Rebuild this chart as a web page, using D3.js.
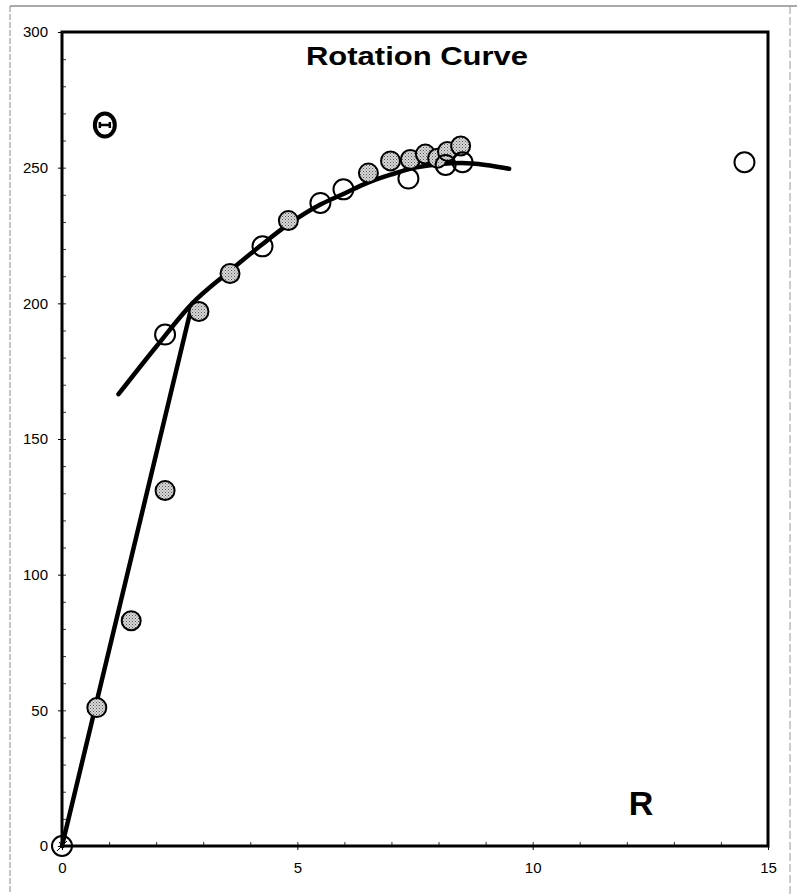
<!DOCTYPE html>
<html>
<head>
<meta charset="utf-8">
<script src="https://cdn.jsdelivr.net/npm/d3@7"></script>
<style>
  body { margin: 0; background: #fff; }
  text { font-family: "Liberation Sans", Arial, sans-serif; }
</style>
</head>
<body>
<div id="chart"></div>
<script>
// measured points (grey, stippled)
var filledR = [0.74, 1.47, 2.19, 2.91, 3.57, 4.81, 6.51, 6.98, 7.40, 7.72, 7.98, 8.19, 8.47];
var filledV = [51, 83, 131, 197, 211, 230.5, 248, 252.5, 253, 255, 253.5, 256, 258];

// measured points (open)
var openR = [0, 2.19, 4.26, 5.49, 5.98, 7.36, 8.15, 8.51, 14.5];
var openV = [0, 188.5, 221, 237, 242, 246, 251, 252, 252];

// the odd point with an error bar
var barR = [0.91];
var barV = [265.7];

// straight rise and the fitted curve
var riseR = [0, 2.77];
var riseV = [0, 200];
var fitR = [1.2, 2.0, 2.77, 3.5, 4.2, 4.8, 5.5, 6.0, 6.5, 7.0, 7.5, 8.0, 8.5, 9.0, 9.5];
var fitV = [166.5, 184, 200, 211, 221, 229, 236.5, 240.5, 244.5, 247.5, 250, 251.3, 251.7, 251, 249.6];

var xTicks = [0, 5, 10, 15];
var yTicks = [0, 50, 100, 150, 200, 250, 300];

var width = 797, height = 894;

var svg = d3.select('#chart')
  .append('svg')
  .attr('width', width)
  .attr('height', height);

// page edges, like a scanned sheet
svg.append('line').attr('x1', 10).attr('x2', 797).attr('y1', 6).attr('y2', 6)
  .attr('stroke', '#555').attr('stroke-width', 1);
svg.append('line').attr('x1', 10).attr('x2', 10).attr('y1', 6).attr('y2', 894)
  .attr('stroke', '#888').attr('stroke-width', 1).attr('stroke-dasharray', '6,2');
svg.append('line').attr('x1', 790).attr('x2', 790).attr('y1', 6).attr('y2', 894)
  .attr('stroke', '#999').attr('stroke-width', 1).attr('stroke-dasharray', '8,3');

var x = d3.scaleLinear().domain([0, 15]).range([62, 768]);
var y = d3.scaleLinear().domain([0, 300]).range([846, 32]);

// stipple pattern for grey markers
var defs = svg.append('defs');
var pat = defs.append('pattern')
  .attr('id', 'stip')
  .attr('width', 3).attr('height', 3)
  .attr('patternUnits', 'userSpaceOnUse');
pat.append('rect').attr('width', 3).attr('height', 3).attr('fill', '#d8d8d8');
pat.append('rect').attr('width', 1).attr('height', 1).attr('fill', '#555');
pat.append('rect').attr('x', 1.5).attr('y', 1.5).attr('width', 1).attr('height', 1).attr('fill', '#777');

// minor ticks, inside the frame
svg.append('g')
  .attr('transform', 'translate(0,' + y(0) + ')')
  .call(d3.axisTop(x).tickValues(d3.range(1, 15)).tickSize(4).tickFormat(''))
  .call(function(g) { g.select('.domain').remove(); })
  .selectAll('line').attr('stroke', '#333');

svg.append('g')
  .attr('transform', 'translate(' + x(0) + ',0)')
  .call(d3.axisRight(y).tickValues(d3.range(10, 300, 10)).tickSize(4).tickFormat(''))
  .call(function(g) { g.select('.domain').remove(); })
  .selectAll('line').attr('stroke', '#333');

// major tick labels
var xAxis = svg.append('g')
  .attr('transform', 'translate(0,' + y(0) + ')')
  .call(d3.axisBottom(x).tickValues(xTicks).tickSize(4).tickPadding(12))
  .call(function(g) { g.select('.domain').remove(); });
xAxis.selectAll('text').attr('font-size', 15).attr('fill', '#000')
  .style('font-family', '"Liberation Sans", Arial, sans-serif');

var yAxis = svg.append('g')
  .attr('transform', 'translate(' + x(0) + ',0)')
  .call(d3.axisLeft(y).tickValues(yTicks).tickSize(4).tickPadding(10))
  .call(function(g) { g.select('.domain').remove(); });
yAxis.selectAll('text').attr('font-size', 15).attr('fill', '#000')
  .style('font-family', '"Liberation Sans", Arial, sans-serif');

// the frame
svg.append('rect')
  .attr('x', x(0)).attr('y', y(300))
  .attr('width', x(15) - x(0)).attr('height', y(0) - y(300))
  .attr('fill', 'none').attr('stroke', '#000').attr('stroke-width', 3);

// title and axis letter
svg.append('text')
  .attr('x', 306).attr('y', 65)
  .attr('font-size', 25).attr('font-weight', 'bold')
  .attr('textLength', 222).attr('lengthAdjust', 'spacingAndGlyphs')
  .text('Rotation Curve');

svg.append('text')
  .attr('x', 641).attr('y', 815)
  .attr('text-anchor', 'middle')
  .attr('font-size', 34).attr('font-weight', 'bold')
  .text('R');

// lines
var line = d3.line()
  .x(function(d) { return x(d[0]); })
  .y(function(d) { return y(d[1]); });

svg.append('path')
  .datum(d3.zip(riseR, riseV))
  .attr('d', line)
  .attr('fill', 'none').attr('stroke', '#000').attr('stroke-width', 4.5)
  .attr('stroke-linecap', 'round');

svg.append('path')
  .datum(d3.zip(fitR, fitV))
  .attr('d', line.curve(d3.curveMonotoneX))
  .attr('fill', 'none').attr('stroke', '#000').attr('stroke-width', 4.5)
  .attr('stroke-linecap', 'round');

// markers
svg.append('g').selectAll('circle')
  .data(d3.zip(filledR, filledV))
  .enter().append('circle')
  .attr('cx', function(d) { return x(d[0]); })
  .attr('cy', function(d) { return y(d[1]); })
  .attr('r', 9.5)
  .attr('fill', 'url(#stip)')
  .attr('stroke', '#000').attr('stroke-width', 2);

svg.append('g').selectAll('circle')
  .data(d3.zip(openR, openV))
  .enter().append('circle')
  .attr('cx', function(d) { return x(d[0]); })
  .attr('cy', function(d) { return y(d[1]); })
  .attr('r', 10)
  .attr('fill', 'none')
  .attr('stroke', '#000').attr('stroke-width', 2);

// small cross inside the origin marker
svg.append('path')
  .attr('d', 'M' + (x(0) - 5) + ',' + (y(0) + 5) + 'L' + (x(0) + 5) + ',' + (y(0) - 5) +
    'M' + (x(0) - 3) + ',' + (y(0) - 4) + 'L' + (x(0) + 2) + ',' + (y(0) + 2))
  .attr('stroke', '#000').attr('stroke-width', 1);

// the bold marker with its error bar
var bar = svg.append('g').selectAll('g')
  .data(d3.zip(barR, barV))
  .enter().append('g')
  .attr('transform', function(d) { return 'translate(' + x(d[0]) + ',' + y(d[1]) + ')'; });
bar.append('ellipse').attr('rx', 10).attr('ry', 11.5)
  .attr('fill', '#fff').attr('stroke', '#000').attr('stroke-width', 4);
bar.append('path')
  .attr('d', 'M-5,0H5M-5,-3V3M5,-3V3')
  .attr('stroke', '#000').attr('stroke-width', 2.5).attr('fill', 'none');
</script>
</body>
</html>
